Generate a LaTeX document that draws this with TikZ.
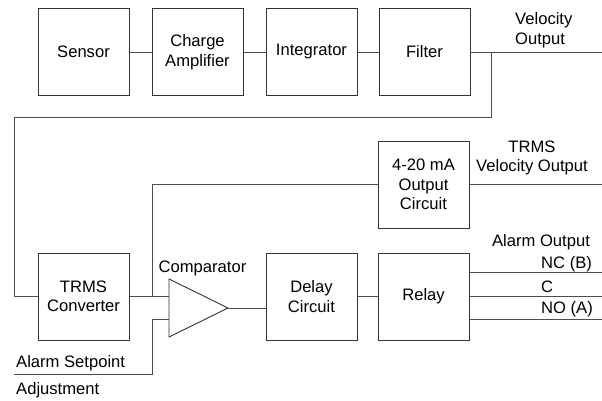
\documentclass[tikz,border=0pt]{standalone}
\usepackage{fontspec}
\setmainfont{Liberation Sans}
\begin{document}
\begin{tikzpicture}[x=1pt,y=-1pt,
  every node/.style={font=\fontsize{16.6}{19.5}\selectfont},
  blk/.style={draw=black!80,line width=0.9pt,minimum width=91pt,minimum height=87pt,inner sep=0pt,align=center},
  wire/.style={draw=black!70,line width=0.9pt},
  lbl/.style={inner sep=0pt}]
\useasboundingbox (0,0) rectangle (602,400);
% top row
\node[blk] (sensor) at (83.5,52) {Sensor};
\node[blk] (charge) at (197.5,52) {Charge\\Amplifier};
\node[blk] (integ) at (311.5,52) {Integrator};
\node[blk] (filter) at (424.5,52) {Filter};
% bottom row
\node[blk] (trms) at (83.5,296.5) {TRMS\\Converter};
\node[blk] (delay) at (311.5,296.5) {Delay\\Circuit};
\node[blk] (relay) at (423.5,296.5) {Relay};
\node[blk] (ma) at (423.5,184.5) {4-20 mA\\Output\\Circuit};
% comparator
\coordinate (ct) at (169,279);
\coordinate (cb) at (169,337);
\coordinate (cout) at (228,308);
\draw[black!80,line width=0.9pt] (ct) -- (cout) -- (cb) -- cycle;
\coordinate (cin1) at (169,296.5);
\coordinate (cin2) at (169,319);
% free ends
\coordinate (velout) at (602,52);
\coordinate (fb) at (491,52);
\coordinate (maout) at (602,184.5);
\coordinate (nc) at (602,272);
\coordinate (cc) at (602,296.5);
\coordinate (no) at (602,319);
\coordinate (setp) at (14,374);
% wires
\draw[wire] (sensor) -- (charge);
\draw[wire] (charge) -- (integ);
\draw[wire] (integ) -- (filter);
\draw[wire] (filter) -- (velout);
\draw[wire] (fb) -- (491,117) -- (14,117) -- (14,296.5) -- (trms.west);
\draw[wire] (trms.east) -- (cin1);
\draw[wire] (152,296.5) -- (152,184.5) -- (ma.west);
\draw[wire] (ma.east) -- (maout);
\draw[wire] (setp) -- (152,374) -- (152,319) -- (cin2);
\draw[wire] (cout) -- (delay.west |- cout);
\draw[wire] (delay) -- (relay);
\draw[wire] (relay.east |- nc) -- (nc);
\draw[wire] (relay.east |- cc) -- (cc);
\draw[wire] (relay.east |- no) -- (no);
% labels
\node[lbl,align=left,anchor=west] (lvel) at (515,30) {Velocity\\Output};
\node[lbl,align=center] (ltrms) at (532,158) {TRMS\\Velocity Output};
\node[lbl] (lcomp) at (202.5,268) {Comparator};
\node[lbl] (lalarm) at (541,242) {Alarm Output};
\node[lbl,anchor=west] (lnc) at (541,264) {NC (B)};
\node[lbl,anchor=west] (lc) at (541,287) {C};
\node[lbl,anchor=west] (lno) at (541,309) {NO (A)};
\node[lbl,anchor=west] (lset) at (16,363) {Alarm Setpoint};
\node[lbl,anchor=west] (ladj) at (16,390) {Adjustment};
\end{tikzpicture}
\end{document}
